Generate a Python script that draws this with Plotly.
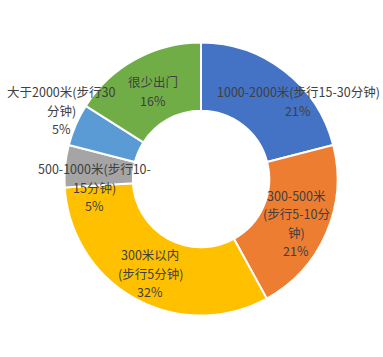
import plotly.graph_objects as go

categories = ["1000-2000米(步行15-30分钟)", "300-500米(步行5-10分钟)", "300米以内(步行5分钟)",
              "500-1000米(步行10-15分钟)", "大于2000米(步行30分钟)", "很少出门"]
values = [21, 21, 32, 5, 5, 16]
label_lines = [
    ["1000-2000米(步行15-30分钟)"],
    ["300-500米", "(步行5-10分", "钟)"],
    ["300米以内", "(步行5分钟)"],
    ["500-1000米(步行10-", "15分钟)"],
    ["大于2000米(步行30", "分钟)"],
    ["很少出门"],
]
colors = ["#4472C4", "#ED7D31", "#FFC000", "#A5A5A5", "#5B9BD5", "#70AD47"]
# label anchor (pixel centre of first line), style only
label_pos = [(298, 92), (296, 196), (150, 255), (94, 169), (61, 92), (153, 82)]

W, H = 383, 357
fig = go.Figure(go.Pie(
    labels=categories, values=values, hole=0.5, sort=False, direction="clockwise",
    rotation=0, marker=dict(colors=colors, line=dict(color="white", width=2)),
    textinfo="none", hoverinfo="label+percent", showlegend=False,
    domain=dict(x=[64.5 / W, 337.5 / W], y=[1 - 315.5 / H, 1 - 42.5 / H]),
))

total = sum(values)
step = 18.5
for lines, v, (px, py) in zip(label_lines, values, label_pos):
    all_lines = lines + [f"{round(100 * v / total)}%"]
    y0 = py - (step - 18) * (len(all_lines) - 1) / 2
    for i, t in enumerate(all_lines):
        fig.add_annotation(x=px / W, y=1 - (y0 + step * i) / H, xref="paper", yref="paper",
                           text=t, showarrow=False, xanchor="center", yanchor="middle",
                           font=dict(size=12.5, color="#404040",
                                     family="Noto Sans CJK SC, sans-serif"))

fig.update_layout(width=W, height=H, margin=dict(l=0, r=0, t=0, b=0),
                  paper_bgcolor="white", plot_bgcolor="white")
fig.write_html("out.html", config={"displayModeBar": False},
               post_script="document.body.style.margin='0';")
